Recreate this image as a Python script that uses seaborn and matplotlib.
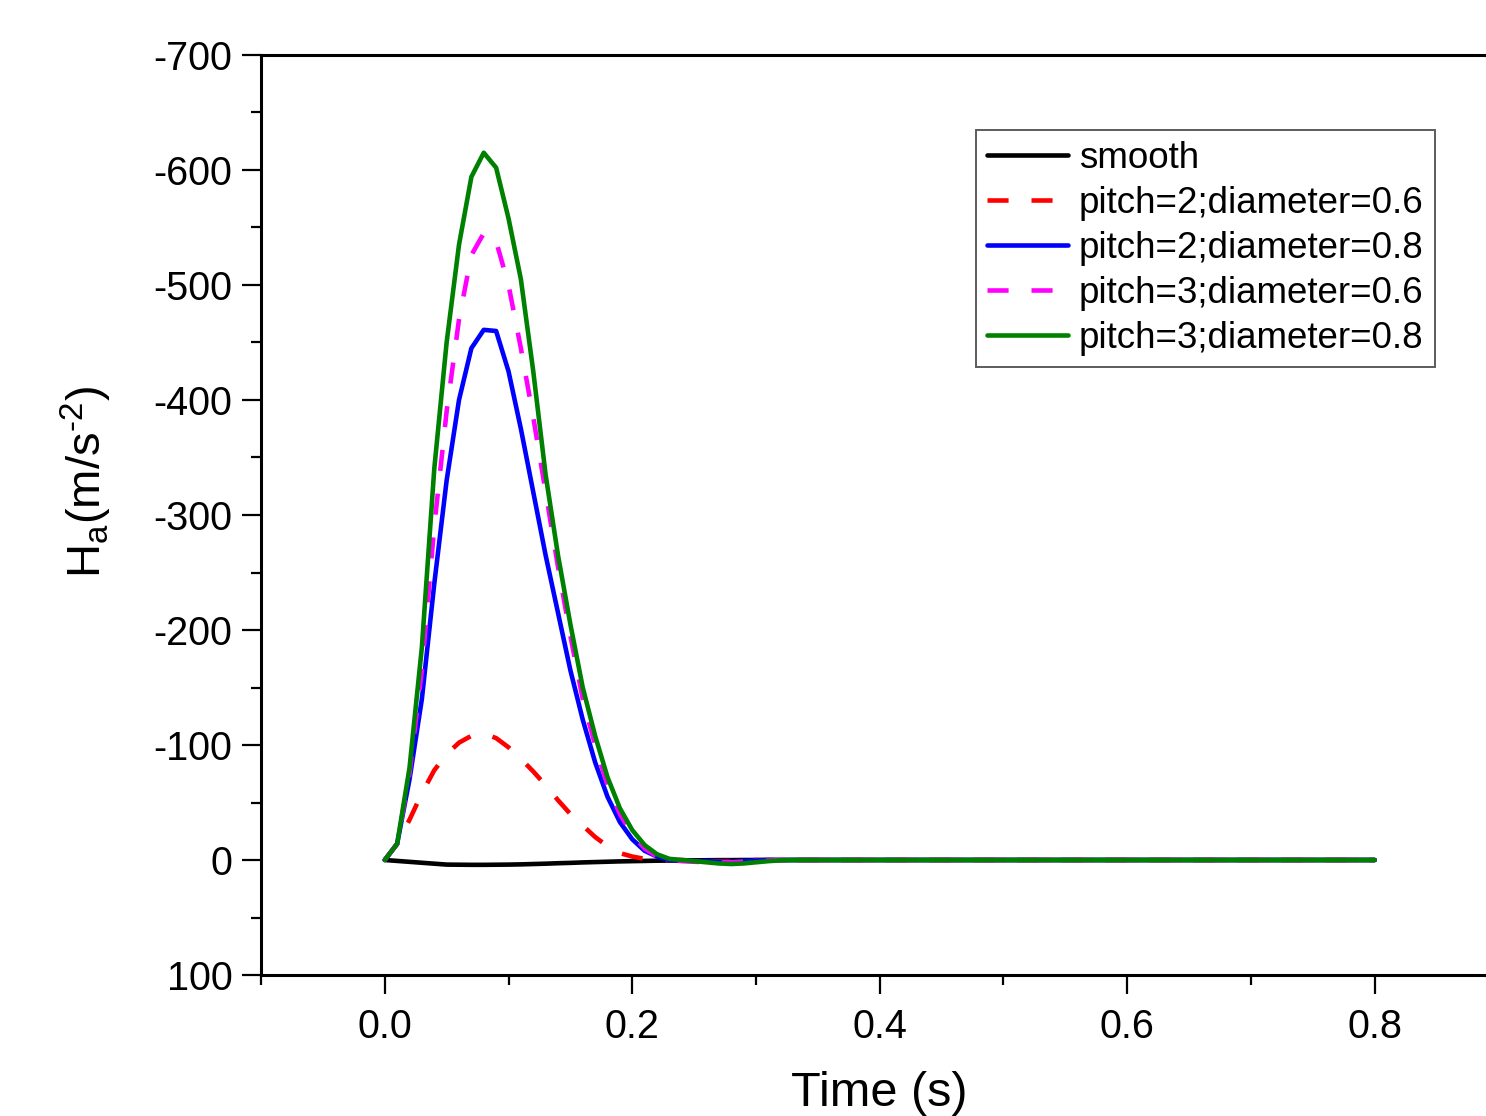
import matplotlib
matplotlib.use("Agg")
import matplotlib.pyplot as plt
import seaborn as sns
import pandas as pd
from matplotlib.ticker import MultipleLocator

# ---- data ----
time = [0.00, 0.01, 0.02, 0.03, 0.04, 0.05, 0.06, 0.07, 0.08, 0.09,
        0.10, 0.11, 0.12, 0.13, 0.14, 0.15, 0.16, 0.17, 0.18, 0.19,
        0.20, 0.21, 0.22, 0.23, 0.24, 0.25, 0.26, 0.27, 0.28, 0.29,
        0.30, 0.31, 0.32, 0.33, 0.40, 0.50, 0.60, 0.70, 0.80]

smooth = [0, 0.8, 1.6, 2.4, 3.2, 4.0, 4.1, 4.2, 4.2, 4.1,
          4.0, 3.8, 3.5, 3.2, 2.8, 2.5, 2.1, 1.8, 1.5, 1.2,
          1.0, 0.8, 0.6, 0.5, 0.4, 0.3, 0.2, 0.1, 0.1, 0.0,
          0.0, 0.0, 0.0, 0.0, 0.0, 0.0, 0.0, 0.0, 0.0]

p2_d06 = [0, -14, -35, -58, -78, -92, -102, -108, -110, -106,
          -98, -88, -77, -65, -52, -40, -30, -20, -12, -6,
          -3, -1, 0, 0, 0, 0.5, 1, 1, 1, 0.5,
          0, 0, 0, 0, 0, 0, 0, 0, 0]

p2_d08 = [0, -14, -70, -140, -240, -330, -400, -445, -461, -460,
          -425, -375, -320, -265, -215, -165, -122, -85, -55, -33,
          -18, -8, -3, 0, 0.5, 1, 1, 1.5, 1.5, 1,
          0.5, 0, 0, 0, 0, 0, 0, 0, 0]

p3_d06 = [0, -14, -75, -165, -290, -390, -470, -526, -545, -538,
          -500, -445, -385, -320, -255, -195, -140, -100, -65, -40,
          -22, -10, -3, 0, 1, 1.5, 2, 2, 2, 1.5,
          1, 0.5, 0, 0, 0, 0, 0, 0, 0]

p3_d08 = [0, -14, -80, -185, -340, -450, -535, -594, -615, -602,
          -558, -505, -425, -335, -265, -205, -150, -108, -72, -45,
          -26, -13, -5, -1, 0, 1, 2, 3, 3.5, 3,
          2, 1, 0.3, 0, 0, 0, 0, 0, 0]

labels = ["smooth", "pitch=2;diameter=0.6", "pitch=2;diameter=0.8",
          "pitch=3;diameter=0.6", "pitch=3;diameter=0.8"]
series = [smooth, p2_d06, p2_d08, p3_d06, p3_d08]
colors = ["#000000", "#ff0000", "#0000ff", "#ff00ff", "#008000"]
dashed = [False, True, False, True, False]

xticks = [0.0, 0.2, 0.4, 0.6, 0.8]
yticks = [-700, -600, -500, -400, -300, -200, -100, 0, 100]

# ---- style ----
sns.set_theme(style="ticks")
plt.rcParams["font.family"] = ["Liberation Sans", "DejaVu Sans"]
plt.rcParams["mathtext.fontset"] = "custom"
plt.rcParams["mathtext.rm"] = "Liberation Sans"
plt.rcParams["mathtext.it"] = "Liberation Sans"
plt.rcParams["axes.unicode_minus"] = False
for k in ["text.color", "axes.labelcolor", "xtick.color", "ytick.color",
          "xtick.labelcolor", "ytick.labelcolor"]:
    plt.rcParams[k] = "black"

fig = plt.figure(figsize=(14.86, 11.16), dpi=100)
ax = fig.add_axes([261 / 1486, 1 - 975 / 1116, 1237.5 / 1486, (975 - 55) / 1116])

for vals, lab, col, dsh in zip(series, labels, colors, dashed):
    df = pd.DataFrame({"Time": time, "H": vals})
    sns.lineplot(data=df, x="Time", y="H", ax=ax, color=col, lw=3.3,
                 label=lab, estimator=None, sort=False)
    line = ax.get_lines()[-1]
    if dsh:
        line.set_dashes((4.6, 5.0))

ax.set_xlim(-0.1, 0.9)
ax.set_ylim(100, -700)
ax.set_xticks(xticks)
ax.set_xticklabels([f"{v:.1f}" for v in xticks])
ax.set_yticks(yticks)
ax.set_yticklabels([str(v) for v in yticks])
ax.xaxis.set_minor_locator(MultipleLocator(0.1))
ax.yaxis.set_minor_locator(MultipleLocator(50))

ax.tick_params(which="major", direction="out", length=13.5, width=1.6,
               labelsize=28.5, colors="black", pad=10)
ax.tick_params(axis="y", which="major", pad=7)
ax.tick_params(which="minor", direction="out", length=7, width=1.6, colors="black")
ax.tick_params(axis="y", which="both", right=False)
ax.tick_params(axis="x", which="both", top=False)

for s in ax.spines.values():
    s.set_linewidth(2.2)
    s.set_color("black")
    s.set_visible(True)

ax.set_xlabel("Time (s)", fontsize=35)
ax.set_ylabel(r"H$_\mathregular{a}$(m/s$^{\text{-2}}$)", fontsize=34)
ax.xaxis.set_label_coords(0.4996, -0.104)
ax.yaxis.set_label_coords(-0.119, 0.536)

leg = ax.legend(loc="upper left", bbox_to_anchor=((976 - 261) / 1237.5, (975 - 130) / 920),
                fontsize=26.5, frameon=True, fancybox=False, borderaxespad=0,
                handlelength=2.2, handletextpad=0.3, labelspacing=0.27,
                borderpad=0.3)
leg.get_frame().set_edgecolor("#333333")
leg.get_frame().set_linewidth(1.4)

fig.savefig("out.png", dpi=100)
